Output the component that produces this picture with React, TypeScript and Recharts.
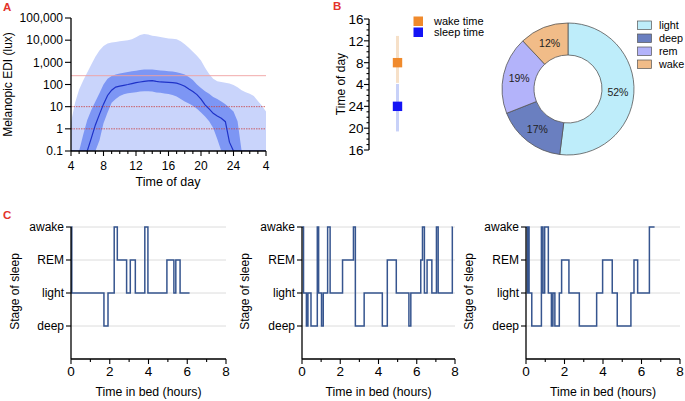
import React from 'react';
import {
  ComposedChart, Area, Line, XAxis, YAxis, ReferenceLine, ScatterChart, Scatter, ErrorBar,
  PieChart, Pie, Cell, LineChart, CartesianGrid,
} from 'recharts';

// ---------- Panel A data ----------
const hours = [4, 4.5, 5, 5.5, 6, 6.5, 7, 7.5, 8, 8.5, 9, 9.5, 10, 10.5, 11, 11.5, 12, 12.5, 13, 13.5, 14, 14.5, 15, 15.5, 16, 16.5, 17, 17.5, 18, 18.5, 19, 19.5, 20, 20.5, 21, 21.5, 22, 22.5, 23, 23.5, 24, 24.5, 25, 25.5, 26, 26.5, 27, 27.5, 28];
const outerHigh = [2, 15, 60, 150, 350, 800, 1800, 3400, 5500, 7000, 7900, 8300, 9000, 9500, 10000, 11000, 13500, 17000, 19000, 18000, 16000, 15000, 14000, 13000, 12000, 11500, 11000, 9000, 6600, 4500, 3000, 2000, 1200, 570, 300, 180, 140, 130, 120, 110, 95, 75, 55, 45, 38, 30, 18, 11, 6];
const innerLow = [0.1, 0.1, 0.1, 0.1, 0.1, 0.1, 0.1, 0.3, 1.8, 5.5, 15, 22, 30, 36, 40, 42, 45, 48, 50, 50, 48, 44, 42, 39, 37, 34, 29, 22, 17, 14, 11, 8, 5.5, 3.6, 2.2, 1.1, 0.35, 0.1, 0.1, 0.1, 0.1, 0.1, 0.1, 0.1, 0.1, 0.1, 0.1, 0.1, 0.1];
const innerHigh = [0.1, 0.1, 0.1, 0.54, 2.5, 7, 17, 40, 100, 180, 240, 280, 310, 340, 370, 400, 420, 450, 470, 480, 470, 450, 430, 420, 400, 390, 360, 320, 280, 220, 160, 100, 70, 50, 38, 27, 22, 17, 13, 9, 6, 2.2, 0.1, 0.1, 0.1, 0.1, 0.1, 0.1, 0.1];
const medianLux = [0.1, 0.1, 0.1, 0.1, 0.1, 0.38, 1.5, 4.5, 13, 32, 55, 76, 85, 92, 100, 110, 122, 130, 138, 145, 148, 138, 130, 128, 125, 122, 115, 100, 83, 62, 48, 35, 22, 12, 8, 5, 3.8, 3, 2.1, 0.25, 0.1, 0.1, 0.1, 0.1, 0.1, 0.1, 0.1, 0.1, 0.1];
const luxTicks = [0.1, 1, 10, 100, 1000, 10000, 100000];
const thresholdLux = [250, 10, 1];
const hourTicksA = [4, 5, 6, 7, 8, 9, 10, 11, 12, 13, 14, 15, 16, 17, 18, 19, 20, 21, 22, 23, 24, 25, 26, 27, 28];

// ---------- Panel B data ----------
const timeTicksB = [16, 17, 18, 19, 20, 21, 22, 23, 24, 25, 26, 27, 28, 29, 30, 31, 32, 33, 34, 35, 36, 37, 38, 39, 40];
const wakeTime = [{ x: 1, y: 32, err: [3.7, 4.9] }];
const sleepTime = [{ x: 1, y: 24, err: [4.6, 4.1] }];
const stageNames = ['light', 'deep', 'rem', 'wake'];
const stagePercents = [52, 17, 19, 12];
const stageColors = ['#beedfa', '#6a7fc0', '#b3b3fa', '#f1bc88'];

// ---------- Panel C data ----------
const stageLabels = ['', 'deep', 'light', 'REM', 'awake'];
const bedTicks = [0, 1, 2, 3, 4, 5, 6, 7, 8];
const night1Times = [0, 0.04, 1.70, 1.91, 2.23, 2.39, 2.87, 3.06, 3.32, 3.81, 3.97, 4.95, 5.31, 5.41, 5.63, 6.12];
const night1Stages = [4, 2, 1, 2, 4, 3, 2, 3, 2, 4, 2, 3, 2, 3, 2, 2];
const night2Times = [0, 0.08, 0.23, 0.31, 0.47, 0.80, 0.87, 1.02, 1.11, 1.34, 1.47, 2.12, 2.69, 2.79, 3.25, 4.20, 4.46, 4.93, 5.59, 5.69, 6.21, 6.30, 6.40, 6.54, 6.79, 7.03, 7.12, 7.86, 7.88];
const night2Stages = [4, 2, 1, 2, 1, 4, 2, 1, 2, 4, 2, 3, 4, 1, 2, 1, 3, 2, 1, 2, 3, 4, 2, 3, 2, 4, 2, 4, 4];
const night3Times = [0, 0.07, 0.10, 0.16, 0.30, 0.80, 0.88, 0.97, 1.16, 1.32, 1.40, 1.50, 1.73, 1.85, 2.23, 2.77, 3.67, 3.98, 4.48, 4.74, 5.45, 5.61, 5.80, 6.41, 6.68];
const night3Stages = [4, 2, 4, 2, 1, 4, 2, 4, 2, 1, 2, 1, 2, 3, 2, 1, 2, 3, 2, 1, 2, 3, 2, 4, 4];

const aData = hours.map((h, i) => ({
  h,
  outer: [0.1, outerHigh[i]],
  inner: [innerLow[i], innerHigh[i]],
  median: medianLux[i],
}));
const pieData = stageNames.map((name, i) => ({ name, value: stagePercents[i] }));
const night = (t: number[], s: number[]) => t.map((v, i) => ({ t: v, s: s[i] }));
const nights = [night(night1Times, night1Stages), night(night2Times, night2Stages), night(night3Times, night3Stages)];

const FONT = '"Liberation Sans", Arial, Helvetica, sans-serif';
const fmtLux = (v: number) => (v < 1 ? '0.1' : v.toLocaleString('en-US'));
const fmtHour = (v: number) => (v > 24 ? v - 24 : v);

function ATick(props: any) {
  const { x, y, payload } = props;
  const v = payload.value;
  const major = (v - 4) % 4 === 0;
  const ay = y - 8;
  return (
    <g>
      <line x1={x} x2={x} y1={ay} y2={ay + (major ? 5 : 3)} stroke="#000" strokeWidth={1.1} />
      {major && (
        <text x={x} y={ay + 10} dy="0.71em" textAnchor="middle" fontSize={12} fill="#000" fontFamily={FONT}>
          {fmtHour(v)}
        </text>
      )}
    </g>
  );
}

function BTick(props: any) {
  const { x, y, payload } = props;
  const v = payload.value;
  const major = v % 4 === 0;
  const ax = x + 8;
  return (
    <g>
      <line x1={ax} x2={ax - (major ? 5 : 2.5)} y1={y} y2={y} stroke="#000" strokeWidth={1.1} />
      {major && (
        <text x={ax - 5.5} y={y} dy="0.36em" textAnchor="end" fontSize={13.5} fill="#000" fontFamily={FONT}>
          {fmtHour(v)}
        </text>
      )}
    </g>
  );
}

function CTick(props: any) {
  const { x, y, payload } = props;
  const v = payload.value;
  const major = v % 2 === 0;
  const ay = y - 8;
  return (
    <g>
      <line x1={x} x2={x} y1={ay} y2={ay + (major ? 5 : 3)} stroke="#000" strokeWidth={1.1} />
      {major && (
        <text x={x} y={ay + 7} dy="0.71em" textAnchor="middle" fontSize={13.5} fill="#000" fontFamily={FONT}>
          {v}
        </text>
      )}
    </g>
  );
}

const renderPieLabel = (p: any) => {
  const RAD = Math.PI / 180;
  const r = (p.innerRadius + p.outerRadius) / 2;
  const x = p.cx + r * Math.cos(-p.midAngle * RAD);
  const y = p.cy + r * Math.sin(-p.midAngle * RAD);
  return (
    <text x={x} y={y} textAnchor="middle" dominantBaseline="central" fontSize={10.5} fill="#222" fontFamily={FONT}>
      {`${p.value}%`}
    </text>
  );
};

const axisStyle = { stroke: '#000', strokeWidth: 1.3 };

function Hypno({ data, width, yw, mr }: { data: any[]; width: number; yw: number; mr: number }) {
  return (
    <LineChart width={width} height={196} data={data} margin={{ top: 22, right: mr, bottom: 0, left: 0 }}>
      <CartesianGrid vertical={false} stroke="#dcdcdc" strokeWidth={1} />
      <XAxis type="number" dataKey="t" domain={[0, 8]} ticks={bedTicks} interval={0} tickLine={false}
        tickSize={6} tickMargin={2} height={42} axisLine={axisStyle} tick={(p: any) => <CTick {...p} />} />
      <YAxis type="number" domain={[0, 4]} ticks={[1, 2, 3, 4]} interval={0} width={yw}
        tickFormatter={(v: number) => stageLabels[v]} tickSize={5} tickMargin={2}
        tick={{ fill: '#000', fontSize: 12, fontFamily: FONT }} tickLine={{ stroke: '#000', strokeWidth: 1.1 }}
        axisLine={axisStyle} />
      <Line type="stepAfter" dataKey="s" stroke="#36558f" strokeWidth={1.5} dot={false} isAnimationActive={false} />
    </LineChart>
  );
}

export default function App() {
  const abs = (left: number, top: number): React.CSSProperties => ({ position: 'absolute', left, top });
  return (
    <div style={{ position: 'absolute', left: 0, top: 0, width: 685, height: 401, background: '#fff', fontFamily: FONT, overflow: 'hidden' }}>
      {/* Panel A */}
      <div style={abs(0, 0)}>
        <ComposedChart width={275} height={195} data={aData} margin={{ top: 18, right: 9, bottom: 0, left: 0 }}>
          <XAxis dataKey="h" type="number" domain={[4, 28]} ticks={hourTicksA} interval={0} tickLine={false}
            tickSize={6} tickMargin={2} height={44} axisLine={axisStyle} tick={(p: any) => <ATick {...p} />} />
          <YAxis type="number" scale="log" domain={[0.1, 100000]} ticks={luxTicks} interval={0} allowDataOverflow
            tickFormatter={fmtLux} width={71} tickSize={6} tickMargin={2}
            tick={{ fill: '#000', fontSize: 12, fontFamily: FONT }} tickLine={{ stroke: '#000', strokeWidth: 1.1 }}
            axisLine={axisStyle} />
          <Area dataKey="outer" type="linear" fill="#c9d4fb" fillOpacity={1} stroke="none" isAnimationActive={false} />
          <Area dataKey="inner" type="linear" fill="#7d96f4" fillOpacity={1} stroke="none" isAnimationActive={false} />
          <ReferenceLine y={thresholdLux[0]} stroke="#f0a0a0" strokeWidth={0.9} />
          <ReferenceLine y={thresholdLux[1]} stroke="#c94040" strokeWidth={0.8} strokeDasharray="1.5 1" />
          <ReferenceLine y={thresholdLux[2]} stroke="#c94040" strokeWidth={0.8} strokeDasharray="1.5 1" />
          <Line dataKey="median" type="linear" stroke="#1e32c8" strokeWidth={1.2} dot={false} isAnimationActive={false} />
        </ComposedChart>
      </div>

      {/* Panel B scatter */}
      <div style={abs(300, 0)}>
        <ScatterChart width={140} height={195} margin={{ top: 19, right: 14, bottom: 45, left: 0 }}>
          <XAxis type="number" dataKey="x" domain={[0, 2]} hide />
          <YAxis type="number" dataKey="y" domain={[16, 40]} ticks={timeTicksB} interval={0} width={69}
            tickLine={false} tickSize={6} tickMargin={2} axisLine={axisStyle} tick={(p: any) => <BTick {...p} />} />
          <Scatter data={wakeTime} shape={() => <g />} isAnimationActive={false}>
            <ErrorBar dataKey="err" direction="y" width={0} stroke="#f6e0c8" strokeWidth={3} />
          </Scatter>
          <Scatter data={sleepTime} shape={() => <g />} isAnimationActive={false}>
            <ErrorBar dataKey="err" direction="y" width={0} stroke="#c8d1f8" strokeWidth={3} />
          </Scatter>
          <Scatter data={wakeTime} isAnimationActive={false}
            shape={(p: any) => <rect x={p.cx - 4.7} y={p.cy - 4.7} width={9.4} height={9.4} fill="#f08a2c" />} />
          <Scatter data={sleepTime} isAnimationActive={false}
            shape={(p: any) => <rect x={p.cx - 4.7} y={p.cy - 4.7} width={9.4} height={9.4} fill="#1414f5" />} />
        </ScatterChart>
      </div>

      {/* Panel B donut */}
      <div style={abs(480, 0)}>
        <PieChart width={170} height={170}>
          <Pie data={pieData} dataKey="value" nameKey="name" cx={83} cy={84} innerRadius={34} outerRadius={66}
            startAngle={90} endAngle={-270} stroke="#555" strokeWidth={0.8} label={renderPieLabel}
            labelLine={false} isAnimationActive={false}>
            {pieData.map((d, i) => <Cell key={d.name} fill={stageColors[i]} />)}
          </Pie>
        </PieChart>
      </div>

      {/* Panel C */}
      <div style={abs(0, 205)}><Hypno data={nights[0]} width={235} yw={71} mr={9} /></div>
      <div style={abs(235, 205)}><Hypno data={nights[1]} width={230} yw={67} mr={10} /></div>
      <div style={abs(465, 205)}><Hypno data={nights[2]} width={220} yw={61} mr={5} /></div>

      {/* Annotations */}
      <svg width={685} height={401} style={{ position: 'absolute', left: 0, top: 0, pointerEvents: 'none' }} fontFamily={FONT}>
        <text x={3} y={10.5} fontSize={11.5} fontWeight="bold" fill="#e3332b">A</text>
        <text x={333} y={9.5} fontSize={11.5} fontWeight="bold" fill="#e3332b">B</text>
        <text x={3} y={219} fontSize={11.5} fontWeight="bold" fill="#e3332b">C</text>

        <text transform="translate(11.5,84.5) rotate(-90)" textAnchor="middle" fontSize={12} fill="#000">Melanopic EDI (lux)</text>
        <text x={168} y={186} textAnchor="middle" fontSize={12.5} fill="#000">Time of day</text>

        <text transform="translate(344.5,84) rotate(-90)" textAnchor="middle" fontSize={12} fill="#000">Time of day</text>
        <rect x={413.5} y={16.5} width={9.5} height={9.5} fill="#f08a2c" />
        <rect x={413.5} y={27.5} width={9.5} height={9.5} fill="#1414f5" />
        <text x={434} y={25} fontSize={11} fill="#000">wake time</text>
        <text x={434} y={36.3} fontSize={11} fill="#000">sleep time</text>

        {stageNames.map((n, i) => (
          <g key={n}>
            <rect x={637.5} y={21 + i * 13} width={14} height={8.5} fill={stageColors[i]} stroke="#555" strokeWidth={0.7} />
            <text x={659} y={29 + i * 13} fontSize={10.8} fill="#000">{n === 'rem' ? 'rem' : n}</text>
          </g>
        ))}

        <text transform="translate(18.5,291.5) rotate(-90)" textAnchor="middle" fontSize={12} fill="#000">Stage of sleep</text>
        <text transform="translate(248.5,291.5) rotate(-90)" textAnchor="middle" fontSize={12} fill="#000">Stage of sleep</text>
        <text transform="translate(473,291.5) rotate(-90)" textAnchor="middle" fontSize={12} fill="#000">Stage of sleep</text>
        <text x={148.5} y={395.5} textAnchor="middle" fontSize={12.3} fill="#000">Time in bed (hours)</text>
        <text x={378.5} y={395.5} textAnchor="middle" fontSize={12.3} fill="#000">Time in bed (hours)</text>
        <text x={603} y={395.5} textAnchor="middle" fontSize={12.3} fill="#000">Time in bed (hours)</text>
      </svg>
    </div>
  );
}
